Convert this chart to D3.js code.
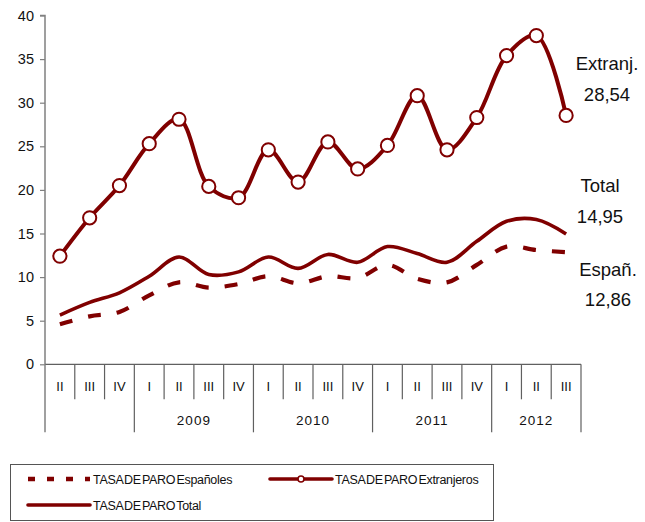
<!DOCTYPE html>
<html>
<head>
<meta charset="utf-8">
<script src="https://cdn.jsdelivr.net/npm/d3@7/dist/d3.min.js"></script>
<style>
  html, body { margin: 0; padding: 0; background: #fff; }
  svg { display: block; font-family: Arial, "Liberation Sans", sans-serif; }
</style>
</head>
<body>
<svg id="chart" width="645" height="522"></svg>
<script>
// ---- Data ----
const quarters = ["II","III","IV","I","II","III","IV","I","II","III","IV","I","II","III","IV","I","II","III"];
const years    = ["2008","2008","2008","2009","2009","2009","2009","2010","2010","2010","2010","2011","2011","2011","2011","2012","2012","2012"];
const yearLabels = {"2008": "", "2009": "2009", "2010": "2010", "2011": "2011", "2012": "2012"};
const espanoles   = [4.6, 5.5, 6.0, 7.9, 9.4, 8.8, 9.2, 10.1, 9.3, 10.1, 9.9, 11.4, 9.8, 9.4, 11.4, 13.5, 13.1, 12.86];
const extranjeros = [12.4, 16.8, 20.5, 25.3, 28.1, 20.4, 19.1, 24.6, 20.9, 25.5, 22.4, 25.1, 30.8, 24.6, 28.3, 35.4, 37.7, 28.54];
const total       = [5.65, 7.1, 8.2, 10.1, 12.3, 10.3, 10.6, 12.3, 11.0, 12.6, 11.7, 13.5, 12.7, 11.7, 14.1, 16.4, 16.6, 14.95];
const yTicks = [0, 5, 10, 15, 20, 25, 30, 35, 40];
const endLabels = [
  {name: "Extranj.", value: "28,54"},
  {name: "Total", value: "14,95"},
  {name: "Españ.", value: "12,86"}
];
const legendNames = ["TASA DE PARO Españoles", "TASA DE PARO Extranjeros", "TASA DE PARO Total"];

(function () {
// ---- Layout ----
const color = "#800000";
const svg = d3.select("#chart");
const mLeft = 45, mRight = 581, mTop = 15.5, mBottom = 364.3;

const x = d3.scaleBand().domain(d3.range(quarters.length)).range([mLeft, mRight]).padding(0);
const y = d3.scaleLinear().domain([0, 40]).range([mBottom, mTop]);
const cx = i => x(i) + x.bandwidth() / 2;

// Y axis
const yAxis = d3.axisLeft(y).tickValues(yTicks).tickSize(5).tickPadding(6).tickFormat(d3.format("d"));
const gy = svg.append("g").attr("transform", `translate(${mLeft},0)`).call(yAxis);
gy.select(".domain").attr("stroke", "#808080").attr("stroke-width", 1.5).attr("d", `M-5,${y(40)}H0V${mBottom}`);
gy.selectAll(".tick line").attr("stroke", "#808080").attr("stroke-width", 1.2);
gy.selectAll(".tick text").attr("font-size", 14.5).attr("fill", "#111").attr("font-family", "Arial, 'Liberation Sans', sans-serif");

// X axis (category table)
const gx = svg.append("g");
const row1 = mBottom + 35, row2 = mBottom + 68;
gx.append("line").attr("x1", mLeft).attr("x2", mRight).attr("y1", mBottom).attr("y2", mBottom)
  .attr("stroke", "#606060").attr("stroke-width", 1.3);
gx.append("line").attr("x1", mLeft).attr("x2", mLeft).attr("y1", mBottom).attr("y2", row2)
  .attr("stroke", "#808080").attr("stroke-width", 1.5);
d3.range(1, quarters.length + 1).forEach(i => {
  const xb = i < quarters.length ? x(i) : mRight;
  const isYear = i === quarters.length || years[i] !== years[i - 1];
  gx.append("line").attr("x1", xb).attr("x2", xb).attr("y1", mBottom).attr("y2", isYear ? row2 : row1)
    .attr("stroke", "#606060").attr("stroke-width", 1.2);
});
gx.selectAll("text.q").data(quarters).join("text").attr("class", "q")
  .attr("x", (d, i) => cx(i)).attr("y", mBottom + 27).attr("text-anchor", "middle")
  .attr("font-size", 13).attr("fill", "#111").text(d => d);
const yearGroups = d3.groups(d3.range(quarters.length), i => years[i]);
yearGroups.forEach(([yr, idx]) => {
  const x0 = x(idx[0]), x1 = x(idx[idx.length - 1]) + x.bandwidth();
  gx.append("text").attr("x", (x0 + x1) / 2).attr("y", mBottom + 61).attr("text-anchor", "middle")
    .attr("font-size", 13.5).attr("fill", "#111").attr("letter-spacing", 1).text(yearLabels[yr]);
});

// Lines
const line = d3.line().x((d, i) => cx(i)).y(d => y(d)).curve(d3.curveCatmullRom.alpha(0.5));
svg.append("path").attr("d", line(espanoles)).attr("fill", "none").attr("stroke", color)
  .attr("stroke-width", 4.2).attr("stroke-dasharray", "13,16");
svg.append("path").attr("d", line(total)).attr("fill", "none").attr("stroke", color)
  .attr("stroke-width", 3.6);
svg.append("path").attr("d", line(extranjeros)).attr("fill", "none").attr("stroke", color)
  .attr("stroke-width", 4);
svg.selectAll("circle.m").data(extranjeros).join("circle").attr("class", "m")
  .attr("cx", (d, i) => cx(i)).attr("cy", d => y(d)).attr("r", 6.6)
  .attr("fill", "#fff").attr("stroke", color).attr("stroke-width", 2);

// End labels
const endPos = [[607, 70, 101], [600, 192, 223], [608, 276, 306]];
endLabels.forEach((d, i) => {
  const [lx, y1, y2] = endPos[i];
  svg.append("text").attr("x", lx).attr("y", y1).attr("text-anchor", "middle").attr("font-size", 18.5).attr("fill", "#111").text(d.name);
  svg.append("text").attr("x", lx).attr("y", y2).attr("text-anchor", "middle").attr("font-size", 18.5).attr("fill", "#111").text(d.value);
});

// Legend
const lg = svg.append("g");
lg.append("rect").attr("x", 10.5).attr("y", 464.5).attr("width", 483).attr("height", 56)
  .attr("fill", "#fff").attr("stroke", "#555").attr("stroke-width", 1);
const legendItems = [
  {x: 28, y: 479, type: "dash"},
  {x: 270, y: 479, type: "marker"},
  {x: 28, y: 505, type: "solid"}
];
legendItems.forEach((it, i) => {
  const w = 62;
  const l = lg.append("line").attr("x1", it.x).attr("x2", it.x + w).attr("y1", it.y).attr("y2", it.y)
    .attr("stroke", color).attr("stroke-width", it.type === "dash" ? 4.5 : 3.6);
  if (it.type === "dash") l.attr("stroke-dasharray", "7,12");
  else l.attr("stroke-linecap", "round");
  if (it.type === "marker") {
    lg.append("circle").attr("cx", it.x + w / 2).attr("cy", it.y).attr("r", 3).attr("fill", "#fff")
      .attr("stroke", color).attr("stroke-width", 1.6);
  }
  lg.append("text").attr("x", it.x + w + 3).attr("y", it.y + 4.5).attr("font-size", 12.5)
    .attr("fill", "#111").attr("word-spacing", -2).attr("letter-spacing", -0.3).text(legendNames[i]);
});
})();
</script>
</body>
</html>
